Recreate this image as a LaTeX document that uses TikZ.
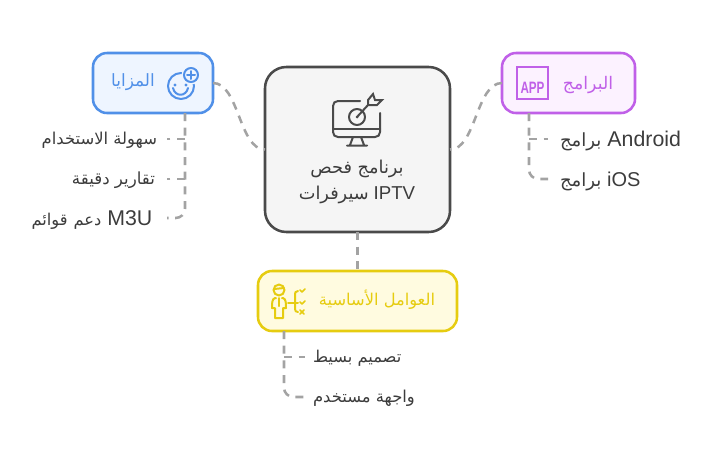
\documentclass[tikz,border=0pt]{standalone}
\usepackage{fontspec}
\setmainfont{Liberation Sans}
\TeXXeTstate=1
\newfontfamily\arabicfont[Script=Arabic]{DejaVu Sans}
\newcommand{\ar}[2][12.3]{{\fontsize{#1pt}{16pt}\arabicfont\beginR #2\endR}}
\definecolor{cdark}{HTML}{4A4A4A}
\definecolor{ctext}{HTML}{3C3C3C}
\definecolor{cedge}{HTML}{A3A3A3}
\definecolor{cblue}{HTML}{5090E8}
\definecolor{cbluef}{HTML}{EEF5FF}
\definecolor{cpurple}{HTML}{C060E8}
\definecolor{cpurplef}{HTML}{FCF2FF}
\definecolor{cyellow}{HTML}{E6CC10}
\definecolor{cyellowf}{HTML}{FFFBE0}
\tikzset{
  box/.style={rectangle,draw,line width=1.9pt,rounded corners=10.5pt,inner sep=0pt,outer sep=0pt,anchor=north west},
  edge/.style={draw=cedge,line width=1.9pt,dash pattern=on 6pt off 5pt},
  leaf/.style={text=ctext,inner ysep=0pt,outer sep=0pt,text height=15pt,text depth=4pt,font=\fontsize{16pt}{18pt}\selectfont},
  leafa/.style={leaf,text height=12pt,text depth=4.5pt},
  leafl/.style={anchor=east,inner xsep=7.5pt},
  leafp/.style={anchor=west,inner xsep=9pt},
  leafy/.style={anchor=west,inner xsep=6pt},
  icon/.style={line width=1.5pt,line cap=round,line join=round,fill=none},
}
\begin{document}
\begin{tikzpicture}[x=0.75pt,y=-0.75pt]
\useasboundingbox (0,0) rectangle (716,465);
% main boxes
\node[box,draw=cdark,fill=black!4,rounded corners=16pt,minimum width=138.75pt,minimum height=123.75pt] (center) at (265,67) {};
\node[box,draw=cblue,fill=cbluef,minimum width=90pt,minimum height=45pt] (blue) at (93,53) {};
\node[box,draw=cpurple,fill=cpurplef,minimum width=99.75pt,minimum height=45pt] (purple) at (502,53) {};
\node[box,draw=cyellow,fill=cyellowf,minimum width=149.25pt,minimum height=45pt] (yellow) at (258,271) {};
% titles
\node[text=ctext,align=center,font=\fontsize{13.3pt}{19pt}\selectfont] (ctitle) at (357,182) {\ar[13.3]{برنامج فحص}\\\ar[13.3]{سيرفرات} {\fontsize{14pt}{19pt}\selectfont IPTV}};
\node[text=cblue] (bluet) at (133,82) {\ar[12.7]{المزايا}};
\node[text=cpurple] (purplet) at (588,85) {\ar[13]{البرامج}};
\node[text=cyellow] (yellowt) at (377,300) {\ar[12.2]{العوامل الأساسية}};
% leaves
\node[leafa,leafl] (b1) at (167,139) {\ar{سهولة الاستخدام}};
\node[leafa,leafl,inner xsep=9pt] (b2) at (167,179) {\ar[12.5]{تقارير دقيقة}};
\node[leaf,leafl,inner xsep=11pt] (b3) at (167,218) {\ar[12.2]{قوائم} \ar[12.2]{دعم} M3U};
\node[leaf,leafp] (p1) at (548,139) {\ar[13.6]{برامج} Android};
\node[leaf,leafp,font=\fontsize{15pt}{18pt}\selectfont] (p2) at (548,179) {\ar[13.6]{برامج} iOS};
\node[leafa,leafy] (y1) at (305,357) {\ar[12.2]{تصميم بسيط}};
\node[leafa,leafy] (y2) at (305,397) {\ar[12.3]{واجهة مستخدم}};
% connectors
\path[edge] (blue.east) .. controls +(26,0) and +(-26,0) .. (center.west);
\path[edge] (purple.west) .. controls +(-26,0) and +(26,0) .. (center.east);
\path[edge] (center.south) -- (yellow.north);
% blue tree
\coordinate (bt) at ([xshift=-21pt]blue.south east);
\path[edge,rounded corners=7pt] (bt) -- (bt |- b3.east) -- (b3.east);
\path[edge] (bt |- b1.east) -- (b1.east);
\path[edge] (bt |- b2.east) -- (b2.east);
% purple tree
\coordinate (pt) at ([xshift=20.25pt]purple.south west);
\path[edge,rounded corners=7pt] (pt) -- (pt |- p2.west) -- (p2.west);
\path[edge] (pt |- p1.west) -- (p1.west);
% yellow tree
\coordinate (yt) at ([xshift=19.5pt]yellow.south west);
\path[edge,rounded corners=7pt] (yt) -- (yt |- y2.west) -- (y2.west);
\path[edge] (yt |- y1.west) -- (y1.west);
% monitor
\draw[icon,cdark] (360,101) -- (338,101) .. controls (335,101) and (333,103) .. (333,106) -- (333,132) .. controls (333,135) and (335,137) .. (338,137) -- (375,137) .. controls (378,137) and (380,135) .. (380,132) -- (380,113);
\draw[icon,cdark] (333,129) -- (380,129);
\draw[icon,cdark] (353,137) -- (350,145) (361,137) -- (364,145) (347,145.5) -- (367,145.5);
\draw[icon,cdark] (357,117) circle (8);
\fill[cdark] (357,117) circle (1.5);
\draw[icon,cdark] (357,117) -- (368,105);
\draw[icon,cdark,line join=miter] (368,105) -- (368,100) -- (373,94) -- (375,100) -- (382,100) -- (377,105) -- cycle;
% smile + plus
\draw[icon,cblue] (181,86) circle (13);
\draw[icon,cblue] (173,88) .. controls (175,97) and (186,97) .. (188,88);
\fill[cblue] (175,85) circle (1.6) (186,85) circle (1.6);
\fill[cbluef] (191,75) circle (9.5);
\draw[icon,cblue] (191,75) circle (7);
\draw[icon,cblue] (187,75) -- (195,75) (191,71) -- (191,79);
% APP
\draw[icon,cpurple,line width=1.9pt,line join=miter] (517,67) rectangle (548,99);
\node[text=cpurple,inner sep=0pt,font=\fontsize{9.5pt}{10pt}\bfseries\selectfont] (apptext) at (532.5,88) {\scalebox{0.92}[1.3]{APP}};
% person
\draw[icon,cyellow] (279,290) circle (5.5);
\draw[icon,cyellow] (274,289) -- (284,288);
\draw[icon,cyellow] (276,298) -- (275,298) .. controls (272,299) and (272,303) .. (272,308) -- (275,308) -- (275,318) -- (283,318) -- (283,308) -- (286,308) .. controls (286,303) and (286,299) .. (283,298) -- (282,298);
\draw[icon,cyellow] (279,298) -- (279,306);
% structure
\draw[icon,cyellow] (298,291) .. controls (295,291) and (295,293) .. (295,295) -- (295,309) .. controls (295,311) and (296,312) .. (298,312);
\draw[icon,cyellow] (288,303) -- (298,303);
\draw[icon,cyellow,line width=1.3pt] (300,290) -- (302,292) -- (305,289) (300,302) -- (302,304) -- (305,301) (300,310) -- (304,314) (304,310) -- (300,314);
\end{tikzpicture}
\end{document}
